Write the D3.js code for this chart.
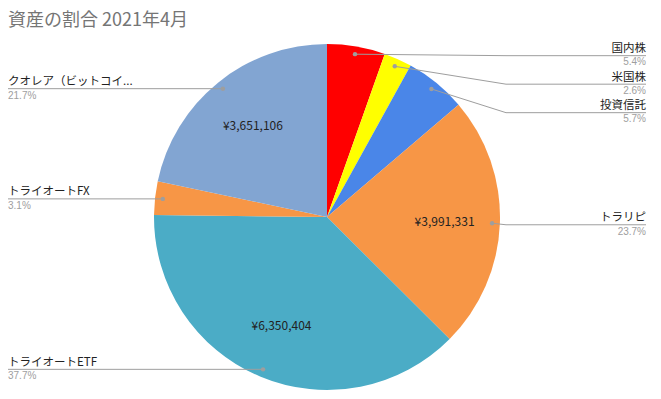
<!DOCTYPE html>
<html>
<head>
<meta charset="utf-8">
<script src="https://cdn.jsdelivr.net/npm/d3@7"></script>
<style>
  body { margin: 0; background: #fff; }
  text { font-family: "Noto Sans CJK JP", "Noto Sans", sans-serif; }
  text.pct { font-family: "Liberation Sans", Arial, sans-serif; }
</style>
</head>
<body>
<svg id="chart"></svg>
<script>
// chart data, clockwise from 12 o'clock
var categories = ["国内株", "米国株", "投資信託", "トラリピ", "トライオートETF", "トライオートFX", "クオレア（ビットコイ..."];
var values = [912000, 440000, 962000, 3991331, 6350404, 525000, 3651106];
var colors = ["#ff0000", "#ffff00", "#4a86e8", "#f79646", "#4bacc6", "#f79646", "#82a5d2"];
// only the big slices show their amount inside
var showValue = [false, false, false, true, true, false, true];

var svg = d3.select("#chart")
    .attr("width", 661)
    .attr("height", 399);

svg.append("text")
    .attr("x", 8)
    .attr("y", 26)
    .attr("font-size", 18)
    .attr("fill", "#757575")
    .text("資産の割合 2021年4月");

var cx = 327, cy = 217, r = 173;
var total = d3.sum(values);
var pctFmt = d3.format(".1%");
var yen = function(v) { return "¥" + d3.format(",")(v); };

var data = categories.map(function(c, i) {
  return {name: c, value: values[i], color: colors[i], show: showValue[i]};
});

var pie = d3.pie().sort(null).value(function(d) { return d.value; });
var arcs = pie(data);

var arc = d3.arc().innerRadius(0).outerRadius(r);
var dotArc = d3.arc().innerRadius(r * 0.955).outerRadius(r * 0.955);
var valArc = d3.arc().innerRadius(r * 0.68).outerRadius(r * 0.68);

var g = svg.append("g")
    .attr("transform", "translate(" + cx + "," + cy + ")");

g.selectAll(".slice")
  .data(arcs)
  .enter().append("path")
    .attr("class", "slice")
    .attr("d", arc)
    .attr("fill", function(d) { return d.data.color; });

g.selectAll(".val")
  .data(arcs.filter(function(d) { return d.data.show; }))
  .enter().append("text")
    .attr("class", "val")
    .attr("transform", function(d) { return "translate(" + valArc.centroid(d) + ")"; })
    .attr("text-anchor", "middle")
    .attr("dy", "0.35em")
    .attr("font-size", 12)
    .attr("fill", "#222")
    .text(function(d) { return yen(d.data.value); });

// work out label rows, pushing them apart so they don't overlap
var labels = arcs.map(function(d) {
  var p = dotArc.centroid(d);
  var mid = (d.startAngle + d.endAngle) / 2;
  return {d: d, px: p[0], py: p[1], right: mid < Math.PI, y: p[1] + (mid < Math.PI ? 1.5 : 0)};
});
[true, false].forEach(function(side) {
  var list = labels.filter(function(l) { return l.right === side; })
    .sort(function(a, b) { return a.y - b.y; });
  for (var i = 1; i < list.length; i++) {
    if (list[i].y < list[i - 1].y + 28.5) list[i].y = list[i - 1].y + 28.5;
  }
});

var rightEnd = 646 - cx, leftEnd = 8 - cx, elbow = r + 6;

var lab = g.selectAll(".lab")
  .data(labels)
  .enter().append("g")
    .attr("class", "lab");

lab.append("polyline")
    .attr("fill", "none")
    .attr("stroke", "#9e9e9e")
    .attr("stroke-width", 1)
    .attr("points", function(l) {
      if (l.right) return [[l.px, l.py], [elbow, l.y], [rightEnd, l.y]].join(" ");
      return [[l.px, l.py], [leftEnd, l.y]].join(" ");
    });

lab.append("circle")
    .attr("cx", function(l) { return l.px; })
    .attr("cy", function(l) { return l.py; })
    .attr("r", 2.2)
    .attr("fill", "#9e9e9e");

lab.append("text")
    .attr("x", function(l) { return l.right ? rightEnd : leftEnd; })
    .attr("y", function(l) { return l.y - 3.5; })
    .attr("text-anchor", function(l) { return l.right ? "end" : "start"; })
    .attr("font-size", 11.5)
    .attr("fill", "#222")
    .text(function(l) { return l.d.data.name; });

lab.append("text")
    .attr("class", "pct")
    .attr("x", function(l) { return l.right ? rightEnd : leftEnd; })
    .attr("y", function(l) { return l.y + 9.8; })
    .attr("text-anchor", function(l) { return l.right ? "end" : "start"; })
    .attr("font-size", 10)
    .attr("fill", "#9e9e9e")
    .text(function(l) { return pctFmt(l.d.data.value / total); });
</script>
</body>
</html>
